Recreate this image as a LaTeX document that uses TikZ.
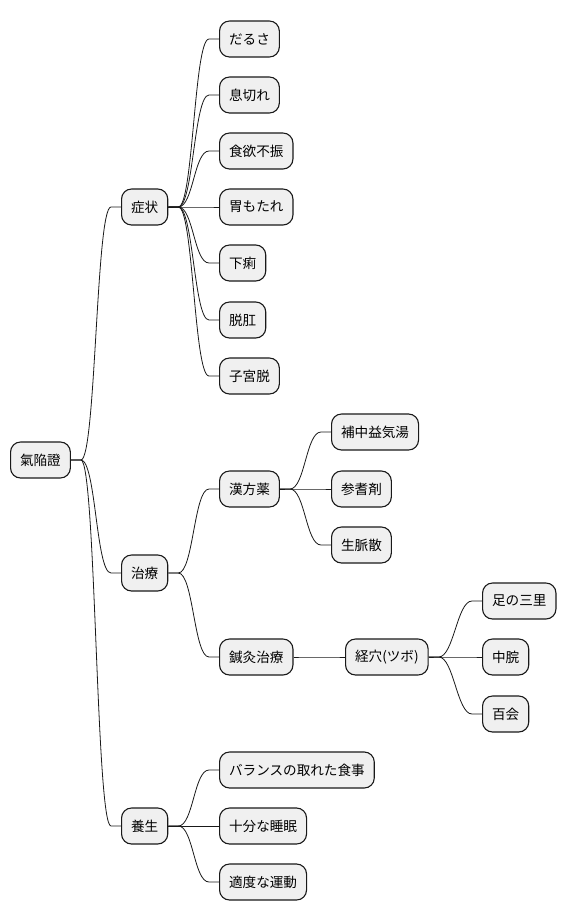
\documentclass[tikz,border=0pt]{standalone}
\usepackage{fontspec}
\setmainfont{Noto Sans CJK JP}
\begin{document}
\begin{tikzpicture}[x=1pt,y=-1pt,
  mm/.style={draw=black!90,line width=1.1pt,fill=black!6,rounded corners=10pt,
    minimum height=36pt,inner xsep=9.5pt,inner ysep=0pt,anchor=west,
    font=\fontsize{13.6}{15}\selectfont},
  conn/.style={draw=black!90,line width=0.8pt}]
\useasboundingbox (0,0) rectangle (569,921);
\node[mm] (root) at (10,460) {氣陥證};
\node[mm] (sym) at (121,207) {症状};
\node[mm] (s1) at (219,39) {だるさ};
\node[mm] (s2) at (219,95) {息切れ};
\node[mm] (s3) at (219,151) {食欲不振};
\node[mm] (s4) at (219,207) {胃もたれ};
\node[mm] (s5) at (219,263) {下痢};
\node[mm] (s6) at (219,320) {脱肛};
\node[mm] (s7) at (219,376) {子宮脱};
\node[mm] (tr) at (121,573) {治療};
\node[mm] (kp) at (219,489) {漢方薬};
\node[mm] (k1) at (331,432) {補中益気湯};
\node[mm] (k2) at (331,489) {参耆剤};
\node[mm] (k3) at (331,545) {生脈散};
\node[mm] (sh) at (219,657) {鍼灸治療};
\node[mm] (kt) at (345,657) {経穴(ツボ)};
\node[mm] (t1) at (482,601) {足の三里};
\node[mm] (t2) at (482,657) {中脘};
\node[mm] (t3) at (482,714) {百会};
\node[mm] (yj) at (121,826) {養生};
\node[mm] (y1) at (219,770) {バランスの取れた食事};
\node[mm] (y2) at (219,826) {十分な睡眠};
\node[mm] (y3) at (219,882) {適度な運動};
\newcommand\mmlink[2]{\draw[conn] (#1.east) -- ([xshift=10pt]#1.east)
  .. controls ([xshift=25pt]#1.east) and ([xshift=-25pt]#2.west) .. ([xshift=-10pt]#2.west) -- (#2.west);}
\foreach \a/\b in {root/sym,root/tr,root/yj,sym/s1,sym/s2,sym/s3,sym/s4,sym/s5,sym/s6,sym/s7,
  tr/kp,tr/sh,kp/k1,kp/k2,kp/k3,sh/kt,kt/t1,kt/t2,kt/t3,yj/y1,yj/y2,yj/y3}{\mmlink{\a}{\b}}
\end{tikzpicture}
\end{document}
